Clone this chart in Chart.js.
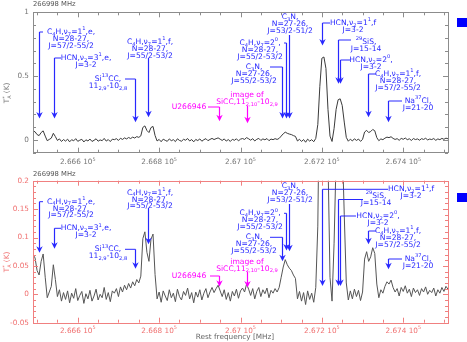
<!DOCTYPE html>
<html>
<head>
<meta charset="utf-8">
<script src="https://cdn.jsdelivr.net/npm/chart.js@4.4.0/dist/chart.umd.min.js"></script>
<style>
  body { margin: 0; background: #fff; }
  canvas { display: block; }
</style>
</head>
<body>
<canvas id="top" width="467" height="171"></canvas>
<canvas id="bottom" width="467" height="171"></canvas>
<script>
// spectrum: channel grid + antenna temperature (K)
const freqStart = 266490
const chanWidth = 5
const intensity = [
  0.070, 0.064, 0.042, 0.034, 0.058, 0.071, 0.030, -0.006, 0.004, 0.014,
  0.052, 0.026, -0.004, 0.008, -0.012, 0.003, -0.009, 0.006, -0.015, 0.002,
  -0.007, 0.010, -0.011, -0.002, 0.005, -0.016, 0.001, -0.008, 0.007, -0.012,
  -0.003, 0.009, -0.010, 0.000, -0.006, 0.012, -0.009, 0.003, -0.013, 0.006,
  0.002, 0.010, -0.004, 0.013, 0.004, 0.016, 0.008, 0.019, 0.011, 0.022,
  0.015, 0.026, 0.020, 0.032, 0.098, 0.110, 0.074, 0.058, 0.097, 0.106,
  0.035, -0.008, 0.004, -0.014, 0.006, -0.003, -0.011, 0.008, -0.006, 0.002,
  -0.013, 0.009, -0.004, -0.010, 0.005, -0.002, 0.011, -0.008, 0.003, -0.015,
  0.004, -0.005, 0.008, -0.010, 0.002, 0.010, -0.006, 0.004, 0.012, 0.003,
  0.010, 0.016, 0.006, -0.004, 0.008, -0.009, 0.003, -0.012, 0.005, -0.003,
  0.009, -0.007, 0.006, 0.011, 0.004, 0.018, 0.009, -0.002, 0.010, -0.008,
  0.005, 0.012, -0.004, 0.008, 0.001, 0.011, -0.006, 0.007, 0.002, 0.010,
  0.004, 0.012, 0.030, 0.048, 0.061, 0.052, 0.046, 0.042, 0.034, 0.028,
  -0.008, 0.005, -0.012, 0.003, -0.018, 0.006, -0.009, 0.002, -0.014, 0.012,
  0.120, 0.420, 0.640, 0.650, 0.560, 0.240, 0.030, -0.012, 0.090, 0.240,
  0.315, 0.322, 0.270, 0.140, 0.020, -0.010, 0.006, -0.008, 0.009, -0.004,
  0.007, -0.011, 0.004, 0.062, 0.075, 0.058, 0.066, 0.082, 0.072, 0.018,
  -0.006, 0.008, 0.002, 0.014, 0.022, 0.018, 0.025, 0.012, 0.004, 0.010,
  -0.003, 0.012, 0.005, 0.015, 0.002, 0.009, -0.004, 0.011, 0.003, 0.008,
  -0.002, 0.010, 0.004, 0.013, 0.000, 0.007, 0.003, 0.011, -0.003, 0.008,
  0.002, 0.012, 0.005, 0.014, 0.009
]

// identified lines (MHz) and their labels
const lineFreqs = [266505, 266541, 266740, 266772, 266946, 267015, 267103, 267113, 267120, 267201, 267240, 267245, 267314, 267363]
const lineLabels = [
  ['C_4H,ν_7=1^1,e,', 'N=28-27,', 'J=57/2-55/2'],
  ['HCN,ν_2=3^1,e,', 'J=3-2'],
  ['Si^{13}CC,', '11_{2,9}-10_{2,8}'],
  ['C_4H,ν_7=1^1,f,', 'N=28-27,', 'J=55/2-53/2'],
  ['U266946'],
  ['image of', 'SiCC,11_{2,10}-10_{2,9}'],
  ['C_3N,', 'N=27-26,', 'J=55/2-53/2'],
  ['C_4H,ν_7=2^0,', 'N=28-27,', 'J=55/2-53/2'],
  ['C_3N,', 'N=27-26,', 'J=53/2-51/2'],
  ['HCN,ν_2=1^1,f', 'J=3-2'],
  ['^{29}SiS,', 'J=15-14'],
  ['HCN,ν_2=2^0,', 'J=3-2'],
  ['C_4H,ν_7=1^1,f,', 'N=28-27,', 'J=57/2-55/2'],
  ['Na^{37}Cl,', 'J=21-20']
]

const xTickValues = [266600, 266800, 267000, 267200, 267400]
const xTickLabels = ['2.666 10^5', '2.668 10^5', '2.67 10^5', '2.672 10^5', '2.674 10^5']
const yTicksTop = [0, 0.5, 1]
const yTickLabelsTop = ['0', '0.5', '1']
const yTicksBottom = [-0.05, 0, 0.05, 0.1, 0.15, 0.2]
const yTickLabelsBottom = ['-0.05', '0', '0.05', '0.1', '0.15', '0.2']
const headerText = '266998 MHz'
const xTitle = 'Rest frequency [MHz]'
const yTitle = 'T_A^* (K)'

const FONT = '"DejaVu Sans", sans-serif'
const BLUE = 'rgb(40,40,255)'
const MAGENTA = 'rgb(255,0,255)'
const GAP = 6.9
const LABEL_SIZE = 7.6

// label placement (pixels inside each canvas), tip in data units
const topLayout = [
  { x: 71, y: 32, hx: 43, hy: 32, tip: 0.167 },
  { x: 86, y: 58, hx: 61, hy: 58, tip: 0.167 },
  { x: 108, y: 79, hx: 125, hy: 79, tip: 0.138 },
  { x: 150, y: 42, hx: null, hy: 58, tip: 0.177 },
  { x: 189, y: 107, hx: 208, hy: 107, tip: 0.146, c: MAGENTA },
  { x: 247, y: 95, hx: null, hy: 106, tip: 0.13, c: MAGENTA },
  { x: 254, y: 67, hx: 270, hy: 67, tip: 0.167 },
  { x: 260, y: 43, hx: 284, hy: 43, tip: 0.167 },
  { x: 290, y: 17, hx: null, hy: 35, tip: 0.167 },
  { x: 353, y: 23, hx: 330, hy: 23, tip: 0.739 },
  { x: 366, y: 42, hx: 351, hy: 40, tip: 0.441 },
  { x: 371, y: 60, hx: 350, hy: 60, tip: 0.441 },
  { x: 398, y: 74, hx: 376, hy: 74, tip: 0.177 },
  { x: 418, y: 101, hx: 402, hy: 101, tip: 0.138 }
]
const bottomLayout = [
  { x: 71, y: 30.7, hx: 43, hy: 30.7, tip: 0.073 },
  { x: 86, y: 57.3, hx: 61, hy: 57.3, tip: 0.080 },
  { x: 108, y: 78.3, hx: 125, hy: 78.3, tip: 0.045 },
  { x: 150, y: 21.7, hx: null, hy: 37, tip: 0.088 },
  { x: 189, y: 105, hx: 210, hy: 105, tip: 0.0135, c: MAGENTA },
  { x: 247, y: 90.7, hx: null, hy: 101, tip: 0.012, c: MAGENTA },
  { x: 254, y: 66.3, hx: 270, hy: 66.3, tip: 0.058 },
  { x: 260, y: 42.3, hx: 284, hy: 42.3, tip: 0.077 },
  { x: 290, y: 15, hx: null, hy: 33, tip: 0.076 },
  { x: 411, y: 18.3, hx: 388, hy: 18.3, tip: 0.0146 },
  { x: 376, y: 25, hx: 363, hy: 28.5, tip: 0.0146 },
  { x: 378, y: 45, hx: 356, hy: 45, tip: 0.0146 },
  { x: 398, y: 60, hx: 376, hy: 60, tip: 0.088 },
  { x: 418, y: 88, hx: 402, hy: 88, tip: 0.044 }
]

function parseRich(s) {
  const segs = []
  let buf = '', i = 0
  while (i < s.length) {
    const c = s[i]
    if (c === '_' || c === '^') {
      if (buf) { segs.push({ t: buf, m: '' }); buf = '' }
      i++
      let t
      if (s[i] === '{') { const j = s.indexOf('}', i); t = s.slice(i + 1, j); i = j + 1 }
      else { t = s[i]; i++ }
      segs.push({ t, m: c })
    } else { buf += c; i++ }
  }
  if (buf) segs.push({ t: buf, m: '' })
  return segs
}

function drawRich(ctx, s, x, y, align, size, color) {
  const items = []
  let w = 0, scriptStart = 0, prev = ''
  for (const sg of parseRich(s)) {
    const fs = sg.m ? size * 0.68 : size
    ctx.font = `${fs}px ${FONT}`
    const tw = ctx.measureText(sg.t).width
    let sx
    if (sg.m && prev && prev !== sg.m) {
      sx = scriptStart
      w = Math.max(w, scriptStart + tw)
    } else {
      sx = w
      if (sg.m) scriptStart = w
      w += tw
    }
    const dy = sg.m === '_' ? size * 0.32 : sg.m === '^' ? -size * 0.38 : 0
    items.push({ t: sg.t, fs, x: sx, dy })
    prev = sg.m
  }
  const x0 = align === 'center' ? x - w / 2 : align === 'right' ? x - w : x
  ctx.fillStyle = color
  ctx.textBaseline = 'middle'
  ctx.textAlign = 'left'
  items.forEach((it) => {
    ctx.font = `${it.fs}px ${FONT}`
    ctx.fillText(it.t, x0 + it.x, y + it.dy)
  })
  return w
}

function drawArrow(ctx, x, yFrom, yTip, color) {
  ctx.strokeStyle = color
  ctx.lineWidth = 1.2
  ctx.beginPath()
  ctx.moveTo(x, yFrom)
  ctx.lineTo(x, yTip - 3)
  ctx.stroke()
  ctx.fillStyle = color
  ctx.beginPath()
  ctx.moveTo(x, yTip)
  ctx.lineTo(x - 3.2, yTip - 6.5)
  ctx.lineTo(x, yTip - 4.5)
  ctx.lineTo(x + 3.2, yTip - 6.5)
  ctx.closePath()
  ctx.fill()
}

const lineMarks = {
  id: 'lineMarks',
  afterDatasetsDraw(chart, args, opts) {
    const { ctx, scales: { x, y } } = chart
    ctx.save()
    opts.layout.forEach((L, i) => {
      const color = L.c || BLUE
      const ax = Math.round(x.getPixelForValue(lineFreqs[i])) + 0.5
      const tipY = y.getPixelForValue(L.tip)
      lineLabels[i].forEach((s, k) => drawRich(ctx, s, L.x, L.y + k * GAP, 'center', LABEL_SIZE, color))
      if (L.hx != null) {
        ctx.strokeStyle = color
        ctx.lineWidth = 1
        ctx.beginPath()
        ctx.moveTo(L.hx, L.hy)
        ctx.lineTo(ax, L.hy)
        ctx.stroke()
      }
      drawArrow(ctx, ax, L.hy, tipY, color)
    })
    ctx.restore()
  }
}

const frame = {
  id: 'frame',
  afterDraw(chart, args, opts) {
    const { ctx, chartArea: a, scales: { x, y } } = chart
    ctx.save()
    ctx.strokeStyle = opts.color
    ctx.lineWidth = 1
    ctx.strokeRect(Math.round(a.left) + 0.5, Math.round(a.top) + 0.5, Math.round(a.right - a.left), Math.round(a.bottom - a.top))
    ctx.beginPath()
    for (let f = 266500; f <= 267500; f += 50) {
      const px = Math.round(x.getPixelForValue(f)) + 0.5
      const len = f % 200 === 0 ? 5 : 3
      ctx.moveTo(px, a.bottom); ctx.lineTo(px, a.bottom - len)
      ctx.moveTo(px, a.top); ctx.lineTo(px, a.top + len)
    }
    const n = Math.round((y.max - y.min) / opts.yMinor)
    for (let k = 0; k <= n; k++) {
      const v = y.min + k * opts.yMinor
      const py = Math.round(y.getPixelForValue(v)) + 0.5
      const major = Math.abs(v / opts.yMajor - Math.round(v / opts.yMajor)) < 1e-6
      const len = major ? 5 : 3
      ctx.moveTo(a.left, py); ctx.lineTo(a.left + len, py)
      ctx.moveTo(a.right, py); ctx.lineTo(a.right - len, py)
    }
    ctx.stroke()
    xTickValues.forEach((v, i) => drawRich(ctx, xTickLabels[i], x.getPixelForValue(v), opts.xLabelY, 'center', 7.3, opts.labelColor))
    drawRich(ctx, headerText, 33, opts.headerY, 'left', 6.8, '#555')
    ctx.save()
    ctx.translate(7, opts.titleY)
    ctx.rotate(-Math.PI / 2)
    drawRich(ctx, yTitle, 0, 0, 'center', 7.3, opts.labelColor)
    ctx.restore()
    if (opts.showXTitle) drawRich(ctx, xTitle, 235, 166.5, 'center', 7.3, '#666')
    ctx.fillStyle = 'rgb(0,0,255)'
    ctx.fillRect(457, opts.squareY, 10, 9)
    ctx.restore()
  }
}

function makeChart(id, cfg) {
  const points = intensity.map((t, i) => ({ x: freqStart + i * chanWidth, y: t }))
  return new Chart(document.getElementById(id), {
    type: 'line',
    data: {
      datasets: [{
        data: points,
        borderColor: cfg.lineColor,
        borderWidth: 1,
        pointRadius: 0,
      }],
    },
    options: {
      responsive: false,
      animation: false,
      layout: { padding: cfg.padding },
      scales: {
        x: { type: 'linear', min: 266490, max: 267510, display: false },
        y: {
          min: cfg.yMin,
          max: cfg.yMax,
          grid: { display: false, drawTicks: false },
          border: { display: false },
          afterBuildTicks: (s) => { s.ticks = cfg.yTicks.map((v) => ({ value: v })) },
          afterFit: (s) => { s.width = 33 },
          ticks: {
            padding: 4,
            color: cfg.frame.labelColor,
            font: { family: 'DejaVu Sans', size: 7.3 },
            callback: (v, i) => cfg.yLabels[i],
          },
        },
      },
      plugins: {
        legend: { display: false },
        tooltip: { enabled: false },
        lineMarks: { layout: cfg.layout },
        frame: cfg.frame,
      },
    },
    plugins: [lineMarks, frame],
  })
}

makeChart('top', {
  padding: { left: 0, right: 19, top: 12.3, bottom: 18.3 },
  yMin: -0.1, yMax: 1,
  yTicks: yTicksTop, yLabels: yTickLabelsTop,
  layout: topLayout,
  lineColor: '#3a3a3a',
  frame: { color: '#8c8c8c', labelColor: '#777', yMinor: 0.1, yMajor: 0.5, xLabelY: 162, headerY: 4, titleY: 93, squareY: 18, showXTitle: false },
})

makeChart('bottom', {
  padding: { left: 0, right: 19, top: 9.7, bottom: 19.3 },
  yMin: -0.05, yMax: 0.2,
  yTicks: yTicksBottom, yLabels: yTickLabelsBottom,
  layout: bottomLayout,
  lineColor: '#555',
  frame: { color: 'rgb(240,128,128)', labelColor: 'rgb(240,112,112)', yMinor: 0.01, yMajor: 0.05, xLabelY: 159.7, headerY: 2.8, titleY: 91, squareY: 22, showXTitle: true },
})
</script>
</body>
</html>
